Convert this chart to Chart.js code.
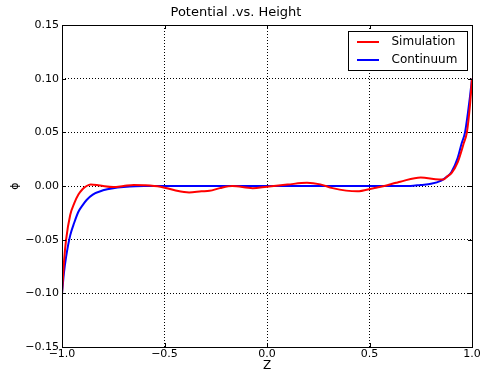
<!DOCTYPE html>
<html>
<head>
    <title>Potential .vs. Height</title>
    <script src="https://cdn.jsdelivr.net/npm/chart.js"></script>
    <style>
        html, body { margin: 0; padding: 0; background: #fff; }
        #wrap { width: 485px; height: 373px; }
    </style>
</head>
<body>
    <div id="wrap"><canvas id="phiChart" width="485" height="373"></canvas></div>

    <script>
        // values
        const simZ = [-1.0, -0.99, -0.98, -0.96, -0.94, -0.92, -0.90, -0.88, -0.86, -0.83, -0.80, -0.75, -0.70, -0.65, -0.60,
                      -0.52, -0.45, -0.38, -0.32, -0.28, -0.23, -0.17, -0.07, 0.0, 0.10, 0.195, 0.26, 0.32, 0.44, 0.52,
                      0.55, 0.63, 0.65, 0.75, 0.84, 0.86, 0.88, 0.90, 0.93, 0.96, 0.975, 0.99, 1.0];
        const simPhi = [-0.100, -0.070, -0.050, -0.027, -0.016, -0.008, -0.003, 0.000, 0.0015, 0.001, 0.000, -0.001, 0.000, 0.001, 0.0008,
                        -0.0006, -0.004, -0.006, -0.005, -0.0045, -0.002, 0.000, -0.002, -0.0006, 0.0013, 0.003, 0.0015, -0.002, -0.005, -0.002,
                        -0.001, 0.003, 0.004, 0.008, 0.006, 0.006, 0.009, 0.012, 0.022, 0.040, 0.050, 0.075, 0.100];

        const conZ = [-1.0, -0.99, -0.98, -0.96, -0.94, -0.92, -0.90, -0.88, -0.85, -0.80, -0.75, -0.70, -0.60,
                      0.60, 0.70, 0.75, 0.80, 0.85, 0.88, 0.90, 0.93, 0.95, 0.966, 0.98, 0.99, 1.0];
        const conPhi = [-0.100, -0.080, -0.066, -0.046, -0.034, -0.024, -0.018, -0.013, -0.008, -0.004, -0.002, -0.001, 0.000,
                        0.000, 0.000, 0.001, 0.002, 0.005, 0.009, 0.013, 0.026, 0.040, 0.050, 0.068, 0.083, 0.100];

        const xTicks = [-1.0, -0.5, 0.0, 0.5, 1.0];
        const yTicks = [-0.15, -0.10, -0.05, 0.00, 0.05, 0.10, 0.15];

        const FONT = "'DejaVu Sans', sans-serif";
        const minus = s => s.replace('-', '\u2212');

        function pts(xs, ys) {
            return xs.map((x, i) => ({ x: x, y: ys[i] }));
        }

        // frame, inward ticks and boxed legend like matplotlib
        const frameAndLegend = {
            id: 'frameAndLegend',
            afterDatasetsDraw(chart) {
                const c = chart.ctx;
                const a = chart.chartArea;
                const xs = chart.scales.x, ys = chart.scales.y;
                c.save();
                c.strokeStyle = '#000';
                c.lineWidth = 1;
                c.setLineDash([]);
                c.strokeRect(Math.round(a.left) + 0.5, Math.round(a.top) + 0.5,
                             Math.round(a.right - a.left), Math.round(a.bottom - a.top));
                c.beginPath();
                xTicks.forEach(v => {
                    const px = Math.round(xs.getPixelForValue(v)) + 0.5;
                    c.moveTo(px, a.bottom); c.lineTo(px, a.bottom - 4);
                    c.moveTo(px, a.top); c.lineTo(px, a.top + 4);
                });
                yTicks.forEach(v => {
                    const py = Math.round(ys.getPixelForValue(v)) + 0.5;
                    c.moveTo(a.left, py); c.lineTo(a.left + 4, py);
                    c.moveTo(a.right, py); c.lineTo(a.right - 4, py);
                });
                c.stroke();

                // legend
                const bx = 348.5, by = 31.5, bw = 119, bh = 39;
                c.fillStyle = '#fff';
                c.fillRect(bx, by, bw, bh);
                c.strokeRect(bx, by, bw, bh);
                c.font = '12px ' + FONT;
                c.textBaseline = 'middle';
                chart.data.datasets.forEach((ds, i) => {
                    const y = by + 10.5 + i * 18;
                    c.strokeStyle = ds.borderColor;
                    c.lineWidth = 2;
                    c.beginPath();
                    c.moveTo(bx + 8.5, y); c.lineTo(bx + 30.5, y);
                    c.stroke();
                    c.fillStyle = '#000';
                    c.fillText(ds.label, bx + 43, y);
                });
                c.restore();
            }
        };

        const ctx = document.getElementById('phiChart').getContext('2d');
        const chart = new Chart(ctx, {
            type: 'line',
            data: {
                datasets: [
                    {
                        label: 'Simulation',
                        data: pts(simZ, simPhi),
                        borderColor: '#ff0000',
                        borderWidth: 2,
                        pointRadius: 0,
                        cubicInterpolationMode: 'monotone',
                        fill: false
                    },
                    {
                        label: 'Continuum',
                        data: pts(conZ, conPhi),
                        borderColor: '#0000ff',
                        borderWidth: 2,
                        pointRadius: 0,
                        cubicInterpolationMode: 'monotone',
                        fill: false
                    }
                ]
            },
            plugins: [frameAndLegend],
            options: {
                responsive: false,
                animation: false,
                layout: { padding: { top: 0, right: 13, left: 0, bottom: 0 } },
                plugins: {
                    legend: { display: false },
                    tooltip: { enabled: false },
                    title: {
                        display: true,
                        text: 'Potential .vs. Height',
                        color: '#000',
                        font: { family: FONT, size: 13, weight: 'normal' },
                        padding: { top: 5, bottom: 4.4 }
                    }
                },
                scales: {
                    x: {
                        type: 'linear',
                        min: -1, max: 1,
                        afterBuildTicks: s => { s.ticks = xTicks.map(v => ({ value: v })); },
                        afterFit: s => { s.height = 26; },
                        ticks: {
                            color: '#000',
                            font: { family: FONT, size: 11 },
                            padding: 1,
                            maxRotation: 0,
                            callback: v => minus(v.toFixed(1))
                        },
                        grid: { color: '#000', lineWidth: 1, drawTicks: false },
                        border: { display: false, dash: [1, 2] },
                        title: { display: true, text: 'Z', color: '#000', font: { family: FONT, size: 12 }, padding: { top: 0, bottom: 0 } }
                    },
                    y: {
                        min: -0.15, max: 0.15,
                        afterBuildTicks: s => { s.ticks = yTicks.map(v => ({ value: v })); },
                        afterFit: s => { s.width = 62; },
                        ticks: {
                            color: '#000',
                            font: { family: FONT, size: 11 },
                            padding: 3,
                            callback: v => minus(v.toFixed(2))
                        },
                        grid: { color: '#000', lineWidth: 1, drawTicks: false },
                        border: { display: false, dash: [1, 2] },
                        title: { display: true, text: '\u03d5', color: '#000', font: { family: FONT, size: 11 }, padding: { top: 9, bottom: 0 } }
                    }
                }
            }
        });
    </script>
</body>
</html>
